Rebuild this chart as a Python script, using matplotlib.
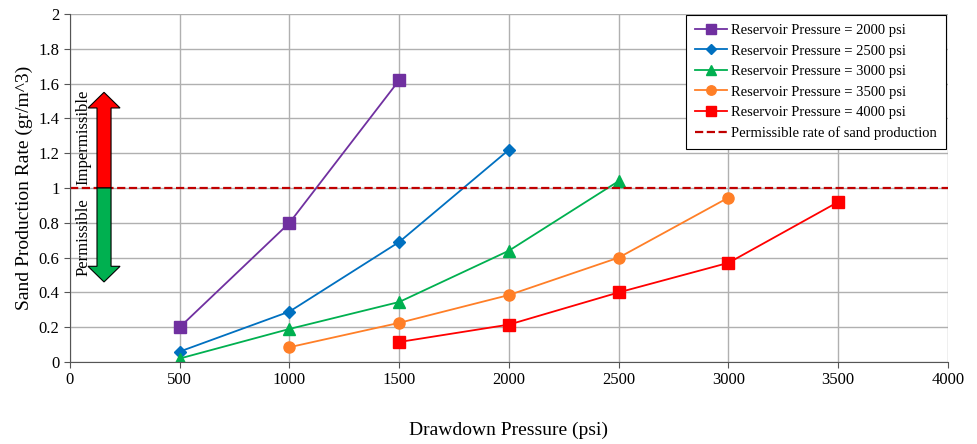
import matplotlib
matplotlib.use("Agg")
import matplotlib.pyplot as plt
import matplotlib.patches as mpatches

plt.rcParams['font.family'] = ['Liberation Serif', 'DejaVu Serif']

# data
x_2000 = [500, 1000, 1500]
y_2000 = [0.20, 0.80, 1.62]
x_2500 = [500, 1000, 1500, 2000]
y_2500 = [0.06, 0.29, 0.69, 1.22]
x_3000 = [500, 1000, 1500, 2000, 2500]
y_3000 = [0.02, 0.19, 0.345, 0.64, 1.04]
x_3500 = [1000, 1500, 2000, 2500, 3000]
y_3500 = [0.085, 0.225, 0.385, 0.60, 0.945]
x_4000 = [1500, 2000, 2500, 3000, 3500]
y_4000 = [0.115, 0.215, 0.40, 0.57, 0.92]
permissible = 1.0

fig = plt.figure(figsize=(9.78, 4.44), dpi=100)
ax = fig.add_axes([70/978, 1-362/444, 878/978, 348/444])

ax.plot(x_2000, y_2000, color='#7030a0', marker='s', markersize=8, lw=1.3,
        label='Reservoir Pressure = 2000 psi')
ax.plot(x_2500, y_2500, color='#0070c0', marker='D', markersize=6, lw=1.3,
        label='Reservoir Pressure = 2500 psi')
ax.plot(x_3000, y_3000, color='#00b050', marker='^', markersize=8, lw=1.3,
        label='Reservoir Pressure = 3000 psi')
ax.plot(x_3500, y_3500, color='#ff7f27', marker='o', markersize=8, lw=1.3,
        label='Reservoir Pressure = 3500 psi')
ax.plot(x_4000, y_4000, color='#ff0000', marker='s', markersize=8, lw=1.3,
        label='Reservoir Pressure = 4000 psi')
ax.axhline(permissible, color='#c00000', ls='--', lw=1.6,
           label='Permissible rate of sand production')

# permissible / impermissible arrows
ax.add_patch(mpatches.FancyArrow(155, permissible, 0, 0.55, width=64, head_width=146,
                                 head_length=0.09, length_includes_head=True,
                                 facecolor='#ff0000', edgecolor='black', lw=0.8, zorder=4))
ax.add_patch(mpatches.FancyArrow(155, permissible, 0, -0.54, width=64, head_width=146,
                                 head_length=0.09, length_includes_head=True,
                                 facecolor='#00b050', edgecolor='black', lw=0.8, zorder=4))
ax.text(60, 1.29, 'Impermissible', rotation=90, ha='center', va='center', fontsize=12, zorder=5)
ax.text(60, 0.72, 'Permissible', rotation=90, ha='center', va='center', fontsize=12, zorder=5)

ax.set_xlim(0, 4000)
ax.set_ylim(0, 2)
ax.set_xticks(range(0, 4001, 500))
ax.set_yticks([0, 0.2, 0.4, 0.6, 0.8, 1, 1.2, 1.4, 1.6, 1.8, 2])
ax.set_yticklabels(['0', '0.2', '0.4', '0.6', '0.8', '1', '1.2', '1.4', '1.6', '1.8', '2'])
ax.tick_params(labelsize=12, length=4, color='#555555')
ax.grid(True, color='#b0b0b0', lw=1)
ax.set_axisbelow(True)
for s in ['top', 'right']:
    ax.spines[s].set_visible(False)
for s in ['left', 'bottom']:
    ax.spines[s].set_color('#555555')

ax.set_xlabel('Drawdown Pressure (psi)', fontsize=14, labelpad=24)
ax.set_ylabel('Sand Production Rate (gr/m^3)', fontsize=14)

leg = ax.legend(loc='upper right', bbox_to_anchor=(0.9975, 0.997), borderaxespad=0,
                fontsize=10.5, fancybox=False, framealpha=1, edgecolor='black',
                borderpad=0.6, handlelength=2.2, handletextpad=0.3, labelspacing=0.5,
                markerscale=0.85)
leg.get_frame().set_linewidth(0.8)

fig.savefig('out.png', dpi=100)
